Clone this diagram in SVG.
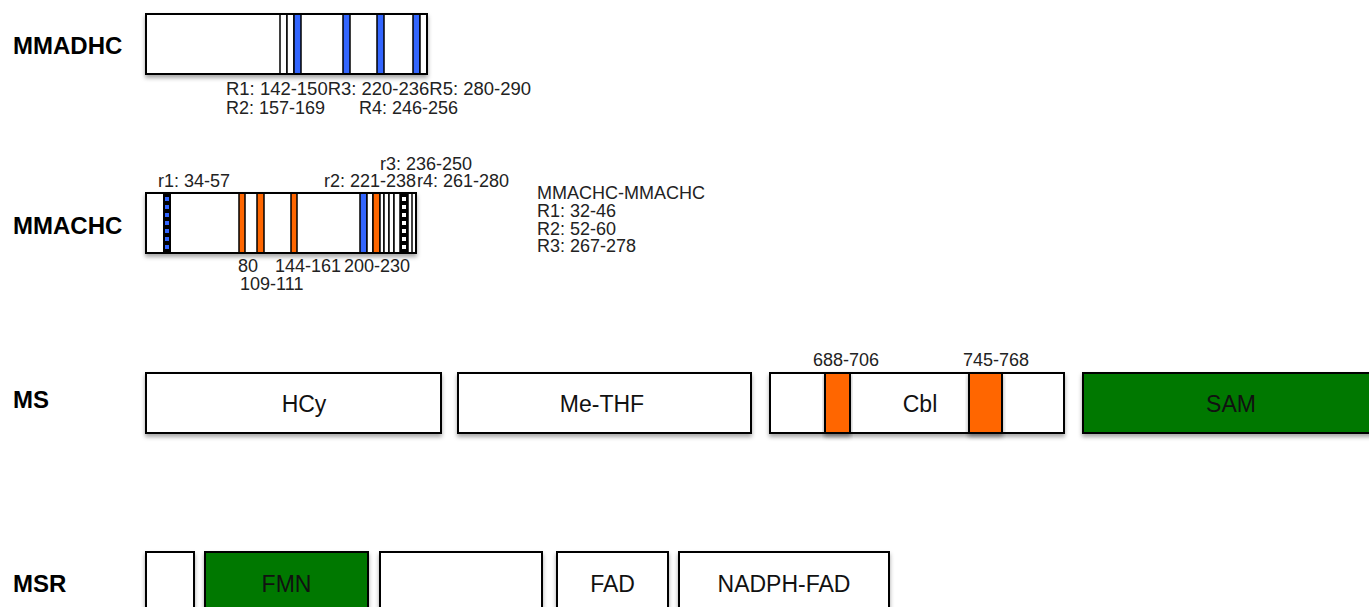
<svg xmlns="http://www.w3.org/2000/svg" width="1369" height="607" viewBox="0 0 1369 607">
<defs>
<filter id="sh" x="-10%" y="-20%" width="120%" height="160%">
<feDropShadow dx="0" dy="3" stdDeviation="2" flood-color="#000" flood-opacity="0.35"/>
</filter>
</defs>
<style>
.lbl{font-family:"Liberation Sans",Arial,sans-serif;font-weight:bold;font-size:24px;fill:#000}
.t{font-family:"Liberation Sans",Arial,sans-serif;font-size:18px;fill:#222}
.bt{font-family:"Liberation Sans",Arial,sans-serif;font-size:23px;fill:#111;text-anchor:middle}
.box{fill:#fff;stroke:#000;stroke-width:2}
.grn{fill:#007800;stroke:#000;stroke-width:2}
.s{stroke:#000;stroke-width:1.5}
.w{fill:#fff}
.b{fill:#3366ff}
.o{fill:#ff6600}
</style>
<rect width="1369" height="607" fill="#fff"/>

<g id="MMADHC">
<text class="lbl" x="13" y="54">MMADHC</text>
<rect class="box" x="146" y="14" width="281" height="60" filter="url(#sh)"/>
<rect class="s w" x="280" y="14" width="7" height="60"/>
<rect class="s w" x="287" y="14" width="7" height="60"/>
<rect class="s b" x="294" y="14" width="7" height="60"/>
<rect class="s b" x="343" y="14" width="7" height="60"/>
<rect class="s b" x="377" y="14" width="7" height="60"/>
<rect class="s b" x="413" y="14" width="7" height="60"/>
<rect class="s w" x="420" y="14" width="7" height="60"/>
<rect x="146" y="14" width="281" height="60" fill="none" stroke="#000" stroke-width="2"/>
<text class="t" x="226" y="95" textLength="305" lengthAdjust="spacingAndGlyphs">R1: 142-150R3: 220-236R5: 280-290</text>
<text class="t" x="226" y="114">R2: 157-169</text>
<text class="t" x="359" y="114">R4: 246-256</text>
</g>

<g id="MMACHC">
<text class="lbl" x="13" y="234">MMACHC</text>
<rect class="box" x="146" y="193" width="270" height="60" filter="url(#sh)"/>
<rect x="163" y="193" width="8" height="60" fill="#000"/>
<line x1="167" y1="197" x2="167" y2="251" stroke="#3366ff" stroke-width="4" stroke-dasharray="4,4"/>
<rect class="s o" x="239" y="193" width="6" height="60"/>
<rect class="s o" x="257" y="193" width="7" height="60"/>
<rect class="s o" x="291" y="193" width="6" height="60"/>
<rect class="s b" x="360" y="193" width="7" height="60"/>
<rect class="s w" x="367" y="193" width="6" height="60"/>
<rect class="s o" x="373" y="193" width="7" height="60"/>
<rect class="s w" x="380" y="193" width="4" height="60"/>
<rect class="s w" x="384" y="193" width="5" height="60"/>
<rect class="s w" x="389" y="193" width="5" height="60"/>
<rect class="s w" x="394" y="193" width="6" height="60"/>
<rect x="400" y="193" width="8" height="60" fill="#000"/>
<line x1="404" y1="197" x2="404" y2="251" stroke="#fff" stroke-width="4" stroke-dasharray="4,4"/>
<rect class="s w" x="408" y="193" width="4" height="60"/>
<rect x="146" y="193" width="270" height="60" fill="none" stroke="#000" stroke-width="2"/>
<text class="t" x="158" y="187">r1: 34-57</text>
<text class="t" x="380" y="170">r3: 236-250</text>
<text class="t" x="417" y="187">r4: 261-280</text>
<text class="t" x="324" y="187">r2: 221-238</text>
<text class="t" x="238" y="272">80</text>
<text class="t" x="275" y="272">144-161</text>
<text class="t" x="344" y="272">200-230</text>
<text class="t" x="240" y="290">109-111</text>
</g>

<g id="note">
<text class="t" x="537" y="198.5">MMACHC-MMACHC</text>
<text class="t" x="537" y="217">R1: 32-46</text>
<text class="t" x="537" y="234.5">R2: 52-60</text>
<text class="t" x="537" y="252">R3: 267-278</text>
</g>

<g id="MS">
<text class="lbl" x="13" y="408">MS</text>
<g id="HCy">
<rect class="box" x="146" y="373" width="295" height="60" filter="url(#sh)"/>
<text class="bt" x="304" y="412">HCy</text>
</g>
<g id="MeTHF">
<rect class="box" x="458" y="373" width="293" height="60" filter="url(#sh)"/>
<text class="bt" x="602" y="412">Me-THF</text>
</g>
<g id="Cbl">
<rect class="box" x="770" y="373" width="294" height="60" filter="url(#sh)"/>
<rect x="825" y="373" width="25" height="60" fill="#ff6600" stroke="#000" stroke-width="2" filter="url(#sh)"/>
<rect x="969" y="373" width="33" height="60" fill="#ff6600" stroke="#000" stroke-width="2" filter="url(#sh)"/>
<text class="bt" x="920" y="412">Cbl</text>
<text class="t" x="813" y="366">688-706</text>
<text class="t" x="963" y="366">745-768</text>
</g>
<g id="SAM">
<rect class="grn" x="1083" y="373" width="296" height="60" filter="url(#sh)"/>
<text class="bt" x="1231" y="412">SAM</text>
</g>
</g>

<g id="MSR">
<text class="lbl" x="13" y="592">MSR</text>
<g id="msr1"><rect class="box" x="146" y="552" width="48" height="70" filter="url(#sh)"/></g>
<g id="FMN">
<rect class="grn" x="205" y="552" width="163" height="70" filter="url(#sh)"/>
<text class="bt" x="286.5" y="592">FMN</text>
</g>
<g id="msr3"><rect class="box" x="380" y="552" width="162" height="70" filter="url(#sh)"/></g>
<g id="FAD">
<rect class="box" x="557" y="552" width="111" height="70" filter="url(#sh)"/>
<text class="bt" x="612.5" y="592">FAD</text>
</g>
<g id="NADPHFAD">
<rect class="box" x="679" y="552" width="210" height="70" filter="url(#sh)"/>
<text class="bt" x="784" y="592">NADPH-FAD</text>
</g>
</g>

<g id="connectors"></g>
</svg>
